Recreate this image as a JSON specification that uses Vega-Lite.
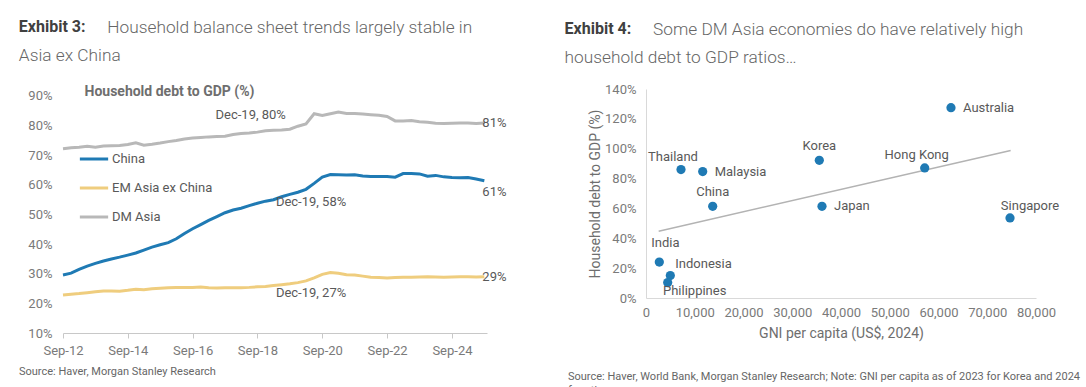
{
  "$schema": "https://vega.github.io/schema/vega-lite/v6.json",
  "background": "white",
  "padding": {"left": 18, "top": 18, "right": 0, "bottom": 0},
  "config": {
    "font": "Roboto",
    "view": {"stroke": null},
    "axis": {"labelFont": "Roboto", "titleFont": "Roboto", "grid": false},
    "legend": {"labelFont": "Roboto"},
    "title": {"font": "Roboto", "subtitleFont": "Roboto"}
  },
  "datasets": {
    "ts": [
      {"date": "2012-09-15", "China": 29.6, "EM Asia ex China": 22.8, "DM Asia": 72.2},
      {"date": "2012-12-15", "China": 30.2, "EM Asia ex China": 23.1, "DM Asia": 72.5},
      {"date": "2013-03-15", "China": 31.5, "EM Asia ex China": 23.3, "DM Asia": 72.7},
      {"date": "2013-06-15", "China": 32.6, "EM Asia ex China": 23.6, "DM Asia": 73.0},
      {"date": "2013-09-15", "China": 33.5, "EM Asia ex China": 23.9, "DM Asia": 72.7},
      {"date": "2013-12-15", "China": 34.3, "EM Asia ex China": 24.2, "DM Asia": 73.1},
      {"date": "2014-03-15", "China": 35.0, "EM Asia ex China": 24.2, "DM Asia": 73.2},
      {"date": "2014-06-15", "China": 35.6, "EM Asia ex China": 24.1, "DM Asia": 73.3},
      {"date": "2014-09-15", "China": 36.3, "EM Asia ex China": 24.4, "DM Asia": 73.6},
      {"date": "2014-12-15", "China": 37.0, "EM Asia ex China": 24.8, "DM Asia": 74.2},
      {"date": "2015-03-15", "China": 38.0, "EM Asia ex China": 24.6, "DM Asia": 73.4},
      {"date": "2015-06-15", "China": 39.0, "EM Asia ex China": 24.9, "DM Asia": 73.7},
      {"date": "2015-09-15", "China": 39.8, "EM Asia ex China": 25.1, "DM Asia": 74.1},
      {"date": "2015-12-15", "China": 40.5, "EM Asia ex China": 25.3, "DM Asia": 74.6},
      {"date": "2016-03-15", "China": 41.8, "EM Asia ex China": 25.4, "DM Asia": 75.0},
      {"date": "2016-06-15", "China": 43.6, "EM Asia ex China": 25.4, "DM Asia": 75.5},
      {"date": "2016-09-15", "China": 45.2, "EM Asia ex China": 25.4, "DM Asia": 75.8},
      {"date": "2016-12-15", "China": 46.6, "EM Asia ex China": 25.5, "DM Asia": 76.0},
      {"date": "2017-03-15", "China": 48.0, "EM Asia ex China": 25.3, "DM Asia": 76.2},
      {"date": "2017-06-15", "China": 49.3, "EM Asia ex China": 25.2, "DM Asia": 76.3},
      {"date": "2017-09-15", "China": 50.6, "EM Asia ex China": 25.3, "DM Asia": 76.4},
      {"date": "2017-12-15", "China": 51.5, "EM Asia ex China": 25.3, "DM Asia": 77.0},
      {"date": "2018-03-15", "China": 52.1, "EM Asia ex China": 25.3, "DM Asia": 77.3},
      {"date": "2018-06-15", "China": 53.0, "EM Asia ex China": 25.4, "DM Asia": 77.5},
      {"date": "2018-09-15", "China": 53.8, "EM Asia ex China": 25.6, "DM Asia": 77.8},
      {"date": "2018-12-15", "China": 54.5, "EM Asia ex China": 25.7, "DM Asia": 78.3},
      {"date": "2019-03-15", "China": 55.0, "EM Asia ex China": 26.0, "DM Asia": 78.4},
      {"date": "2019-06-15", "China": 56.0, "EM Asia ex China": 26.3, "DM Asia": 78.5},
      {"date": "2019-09-15", "China": 56.8, "EM Asia ex China": 26.6, "DM Asia": 78.8},
      {"date": "2019-12-15", "China": 57.5, "EM Asia ex China": 27.0, "DM Asia": 79.8},
      {"date": "2020-03-15", "China": 58.5, "EM Asia ex China": 27.6, "DM Asia": 80.6},
      {"date": "2020-06-15", "China": 60.5, "EM Asia ex China": 28.6, "DM Asia": 84.0},
      {"date": "2020-09-15", "China": 62.6, "EM Asia ex China": 29.8, "DM Asia": 83.4},
      {"date": "2020-12-15", "China": 63.5, "EM Asia ex China": 30.4, "DM Asia": 84.0},
      {"date": "2021-03-15", "China": 63.4, "EM Asia ex China": 30.2, "DM Asia": 84.6},
      {"date": "2021-06-15", "China": 63.3, "EM Asia ex China": 29.7, "DM Asia": 84.1},
      {"date": "2021-09-15", "China": 63.4, "EM Asia ex China": 29.6, "DM Asia": 84.1},
      {"date": "2021-12-15", "China": 63.0, "EM Asia ex China": 29.2, "DM Asia": 83.9},
      {"date": "2022-03-15", "China": 62.8, "EM Asia ex China": 28.8, "DM Asia": 83.7},
      {"date": "2022-06-15", "China": 62.8, "EM Asia ex China": 28.7, "DM Asia": 83.5},
      {"date": "2022-09-15", "China": 62.8, "EM Asia ex China": 28.6, "DM Asia": 83.1},
      {"date": "2022-12-15", "China": 62.6, "EM Asia ex China": 28.7, "DM Asia": 81.6},
      {"date": "2023-03-15", "China": 63.8, "EM Asia ex China": 28.8, "DM Asia": 81.6},
      {"date": "2023-06-15", "China": 63.8, "EM Asia ex China": 28.8, "DM Asia": 81.7},
      {"date": "2023-09-15", "China": 63.7, "EM Asia ex China": 28.9, "DM Asia": 81.3},
      {"date": "2023-12-15", "China": 62.9, "EM Asia ex China": 29.0, "DM Asia": 81.1},
      {"date": "2024-03-15", "China": 63.2, "EM Asia ex China": 28.9, "DM Asia": 80.8},
      {"date": "2024-06-15", "China": 62.7, "EM Asia ex China": 28.8, "DM Asia": 80.7},
      {"date": "2024-09-15", "China": 62.5, "EM Asia ex China": 28.9, "DM Asia": 80.8},
      {"date": "2024-12-15", "China": 62.4, "EM Asia ex China": 29.0, "DM Asia": 80.9},
      {"date": "2025-03-15", "China": 62.5, "EM Asia ex China": 29.0, "DM Asia": 80.9},
      {"date": "2025-06-15", "China": 62.0, "EM Asia ex China": 28.9, "DM Asia": 80.7},
      {"date": "2025-09-15", "China": 61.4, "EM Asia ex China": 29.0, "DM Asia": 80.9}
    ],
    "ann": [
      {"date": "2019-12-15", "value": 79.8, "label": "Dec-19, 80%"},
      {"date": "2019-12-15", "value": 57.5, "label": "Dec-19, 58%"},
      {"date": "2019-12-15", "value": 27.0, "label": "Dec-19, 27%"},
      {"date": "2025-09-15", "value": 80.9, "label": "81%"},
      {"date": "2025-09-15", "value": 61.4, "label": "61%"},
      {"date": "2025-09-15", "value": 29.0, "label": "29%"}
    ],
    "gni": [
      {"country": "Australia", "gni": 62560, "debt": 127.5},
      {"country": "Thailand", "gni": 7180, "debt": 86.0},
      {"country": "Malaysia", "gni": 11630, "debt": 84.7},
      {"country": "Korea", "gni": 35550, "debt": 92.2},
      {"country": "Hong Kong", "gni": 57170, "debt": 87.1},
      {"country": "China", "gni": 13680, "debt": 61.4},
      {"country": "Japan", "gni": 36100, "debt": 61.4},
      {"country": "Singapore", "gni": 74670, "debt": 53.6},
      {"country": "India", "gni": 2730, "debt": 24.1},
      {"country": "Indonesia", "gni": 4990, "debt": 15.0},
      {"country": "Philippines", "gni": 4450, "debt": 10.3}
    ]
  },
  "columns": 2,
  "align": "none",
  "spacing": 57,
  "concat": [
    {
      "spacing": 8,
      "vconcat": [
        {
          "width": 424,
          "height": 244,
          "title": {
            "text": "Exhibit 3:",
            "subtitle": ["\u200b\u00a0\u00a0\u00a0\u00a0\u00a0\u00a0\u00a0\u00a0\u00a0\u00a0\u00a0\u00a0\u00a0\u00a0\u00a0\u00a0\u00a0\u00a0\u00a0\u00a0\u00a0Household balance sheet trends largely stable in", "Asia ex China"],
            "anchor": "start", "frame": "bounds", "dx": -9,
            "fontSize": 16, "fontWeight": "bold", "color": "#404040", "lineHeight": 28,
            "subtitleFontSize": 17.3, "subtitleFontWeight": 300, "subtitleColor": "#666666",
            "subtitleLineHeight": 28, "subtitlePadding": -16, "offset": 20
          },
          "encoding": {
            "x": {
              "field": "date", "type": "temporal",
              "scale": {"domain": [{"year": 2012, "month": 9, "date": 15}, {"year": 2025, "month": 10, "date": 15}]},
              "axis": {
                "title": null, "format": "%b-%y",
                "values": [
                  {"year": 2012, "month": 9, "date": 15},
                  {"year": 2014, "month": 9, "date": 15},
                  {"year": 2016, "month": 9, "date": 15},
                  {"year": 2018, "month": 9, "date": 15},
                  {"year": 2020, "month": 9, "date": 15},
                  {"year": 2022, "month": 9, "date": 15},
                  {"year": 2024, "month": 9, "date": 15}
                ],
                "tickSize": 5, "tickColor": "#c8c8c8", "domainColor": "#c8c8c8",
                "labelColor": "#7a7a7a", "labelFontSize": 13, "labelPadding": 6, "labelFlush": false, "labelOverlap": false
              }
            },
            "y": {
              "field": "value", "type": "quantitative",
              "scale": {"domain": [10, 92.36], "nice": false},
              "axis": {
                "values": [10, 20, 30, 40, 50, 60, 70, 80, 90],
                "labelExpr": "datum.value + '%'", "labelOverlap": false,
                "domain": false, "ticks": false, "labelPadding": 11,
                "labelColor": "#7a7a7a", "labelFontSize": 13,
                "title": "Household debt to GDP (%)", "titleAngle": 0, "titleAlign": "left",
                "titleBaseline": "middle", "titleX": 21, "titleY": 2,
                "titleFontSize": 14, "titleFontWeight": "bold", "titleColor": "#6e6e6e"
              }
            }
          },
          "layer": [
            {
              "data": {"name": "ts"},
              "transform": [{"fold": ["China", "EM Asia ex China", "DM Asia"], "as": ["series", "value"]}],
              "mark": {"type": "line", "strokeWidth": 3},
              "encoding": {
                "color": {
                  "field": "series", "type": "nominal",
                  "scale": {"domain": ["China", "EM Asia ex China", "DM Asia"], "range": ["#1f7ab4", "#efcd7e", "#b8b8b8"]},
                  "legend": {
                    "title": null, "orient": "none", "legendX": 15, "legendY": 54,
                    "symbolType": "stroke", "symbolStrokeWidth": 3, "symbolSize": 800,
                    "labelFontSize": 13, "labelColor": "#595959", "labelOffset": 2, "rowPadding": 6
                  }
                }
              }
            },
            {
              "data": {"name": "ann"},
              "transform": [{"filter": "datum.label == 'Dec-19, 80%'"}],
              "mark": {"type": "text", "align": "right", "baseline": "middle", "dx": -12, "dy": -11, "fontSize": 13, "color": "#595959"},
              "encoding": {"text": {"field": "label"}}
            },
            {
              "data": {"name": "ann"},
              "transform": [{"filter": "datum.label == 'Dec-19, 58%' || datum.label == 'Dec-19, 27%'"}],
              "mark": {"type": "text", "align": "left", "baseline": "middle", "dx": -22, "dy": 10, "fontSize": 13, "color": "#595959"},
              "encoding": {"text": {"field": "label"}}
            },
            {
              "data": {"name": "ann"},
              "transform": [{"filter": "datum.label == '81%' || datum.label == '29%'"}],
              "mark": {"type": "text", "align": "left", "baseline": "middle", "dx": -2, "dy": 0, "fontSize": 13, "color": "#595959"},
              "encoding": {"text": {"field": "label"}}
            },
            {
              "data": {"name": "ann"},
              "transform": [{"filter": "datum.label == '61%'"}],
              "mark": {"type": "text", "align": "left", "baseline": "middle", "dx": -2, "dy": 11, "fontSize": 13, "color": "#595959"},
              "encoding": {"text": {"field": "label"}}
            }
          ]
        },
        {
          "width": 300, "height": 1,
          "data": {"values": [{}]},
          "mark": {"type": "point", "opacity": 0},
          "encoding": {},
          "title": {"text": "Source: Haver, Morgan Stanley Research", "fontSize": 11, "fontWeight": "normal", "color": "#666666", "anchor": "start", "frame": "group", "offset": 0, "dx": -44}
        }
      ]
    },
    {
      "spacing": 30,
      "vconcat": [
        {
          "width": 390,
          "height": 209,
          "data": {"name": "gni"},
          "title": {
            "text": "Exhibit 4:",
            "subtitle": ["\u200b\u00a0\u00a0\u00a0\u00a0\u00a0\u00a0\u00a0\u00a0\u00a0\u00a0\u00a0\u00a0\u00a0\u00a0\u00a0\u00a0\u00a0\u00a0\u00a0\u00a0\u00a0Some DM Asia economies do have relatively high", "household debt to GDP ratios\u2026"],
            "anchor": "start", "frame": "bounds", "dx": -24,
            "fontSize": 16, "fontWeight": "bold", "color": "#404040", "lineHeight": 28,
            "subtitleFontSize": 17.3, "subtitleFontWeight": 300, "subtitleColor": "#666666",
            "subtitleLineHeight": 28, "subtitlePadding": -16, "offset": 17
          },
          "encoding": {
            "x": {
              "field": "gni", "type": "quantitative",
              "scale": {"domain": [0, 80000], "nice": false},
              "axis": {
                "values": [0, 10000, 20000, 30000, 40000, 50000, 60000, 70000, 80000],
                "format": ",d", "ticks": false, "domainColor": "#d9d9d9", "labelPadding": 8,
                "labelColor": "#7a7a7a", "labelFontSize": 13, "labelFlush": false, "labelOverlap": false,
                "title": "GNI per capita (US$, 2024)", "titleFontSize": 14, "titleFontWeight": "normal",
                "titleColor": "#6e6e6e", "titlePadding": 7
              }
            },
            "y": {
              "field": "debt", "type": "quantitative",
              "scale": {"domain": [0, 140], "nice": false},
              "axis": {
                "values": [0, 20, 40, 60, 80, 100, 120, 140],
                "labelExpr": "datum.value + '%'", "labelOverlap": false,
                "ticks": false, "domainColor": "#d9d9d9", "labelPadding": 10,
                "labelColor": "#7a7a7a", "labelFontSize": 13,
                "title": "Household debt to GDP (%)", "titleFontSize": 14, "titleFontWeight": "normal",
                "titleColor": "#6e6e6e", "titlePadding": 2
              }
            }
          },
          "layer": [
            {
              "transform": [{"regression": "debt", "on": "gni", "extent": [2600, 74800]}],
              "mark": {"type": "line", "color": "#b3b3b3", "strokeWidth": 1.5}
            },
            {
              "mark": {"type": "circle", "size": 85, "opacity": 1, "color": "#1f7ab4"}
            },
            {
              "transform": [{"filter": "indexof(['Australia','Malaysia','Japan'], datum.country) >= 0"}],
              "mark": {"type": "text", "align": "left", "baseline": "middle", "dx": 12, "fontSize": 13, "color": "#595959"},
              "encoding": {"text": {"field": "country"}}
            },
            {
              "transform": [{"filter": "indexof(['Korea','China'], datum.country) >= 0"}],
              "mark": {"type": "text", "align": "center", "baseline": "middle", "dy": -14, "fontSize": 13, "color": "#595959"},
              "encoding": {"text": {"field": "country"}}
            },
            {
              "transform": [{"filter": "indexof(['Thailand','Hong Kong'], datum.country) >= 0"}],
              "mark": {"type": "text", "align": "center", "baseline": "middle", "dx": -8, "dy": -13, "fontSize": 13, "color": "#595959"},
              "encoding": {"text": {"field": "country"}}
            },
            {
              "transform": [{"filter": "datum.country == 'Singapore'"}],
              "mark": {"type": "text", "align": "center", "baseline": "middle", "dx": 20, "dy": -12, "fontSize": 13, "color": "#595959"},
              "encoding": {"text": {"field": "country"}}
            },
            {
              "transform": [{"filter": "datum.country == 'India'"}],
              "mark": {"type": "text", "align": "center", "baseline": "middle", "dx": 6, "dy": -19, "fontSize": 13, "color": "#595959"},
              "encoding": {"text": {"field": "country"}}
            },
            {
              "transform": [{"filter": "datum.country == 'Indonesia'"}],
              "mark": {"type": "text", "align": "left", "baseline": "middle", "dx": 5, "dy": -12, "fontSize": 13, "color": "#595959"},
              "encoding": {"text": {"field": "country"}}
            },
            {
              "transform": [{"filter": "datum.country == 'Philippines'"}],
              "mark": {"type": "text", "align": "center", "baseline": "middle", "dx": 27, "dy": 8, "fontSize": 13, "color": "#595959"},
              "encoding": {"text": {"field": "country"}}
            }
          ]
        },
        {
          "width": 300, "height": 1,
          "data": {"values": [{}]},
          "mark": {"type": "point", "opacity": 0},
          "encoding": {},
          "title": {"text": ["Source: Haver, World Bank, Morgan Stanley Research; Note: GNI per capita as of 2023 for Korea and 2024", "for others"], "fontSize": 11, "fontWeight": "normal", "color": "#666666", "anchor": "start", "frame": "group", "offset": 0, "lineHeight": 14, "dx": -78}
        }
      ]
    }
  ]
}
